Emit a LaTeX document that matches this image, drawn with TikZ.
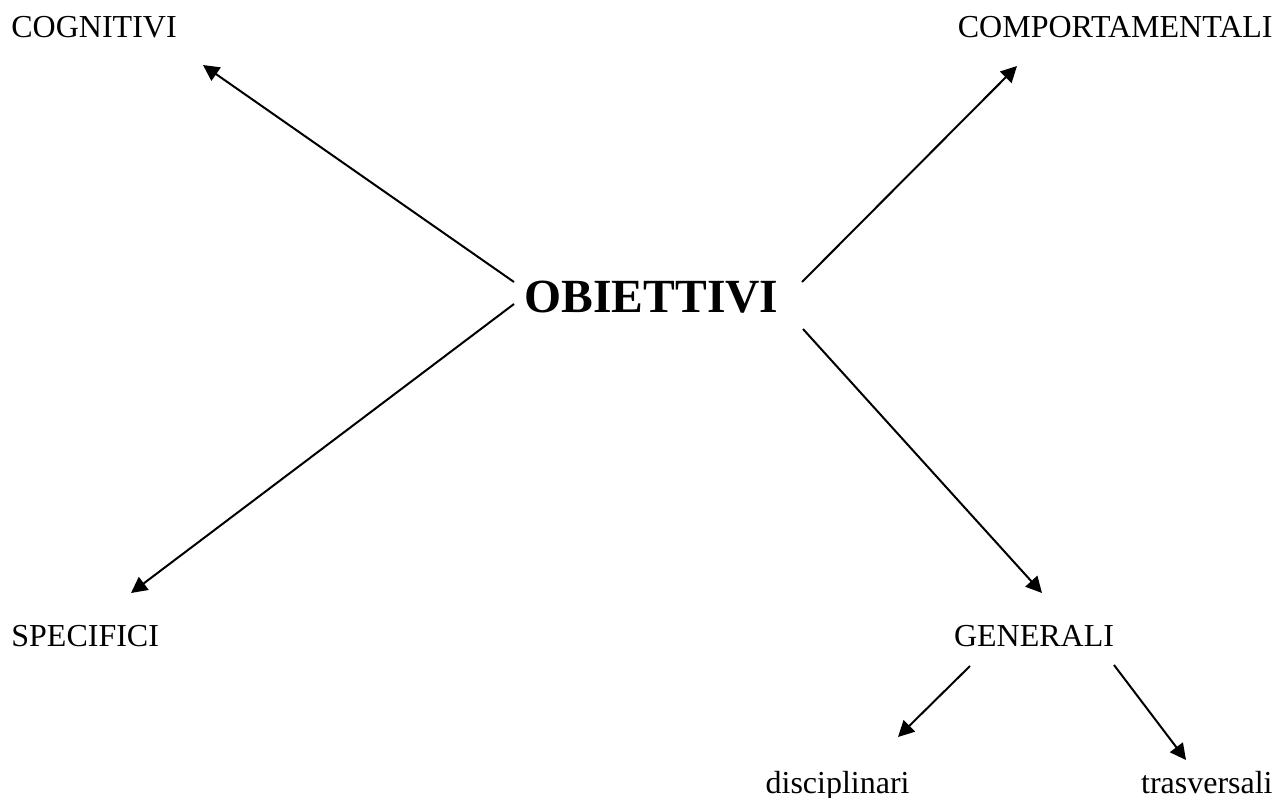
\documentclass[tikz,border=0pt]{standalone}
\usepackage{fontspec}
\setmainfont{Liberation Serif}
\usepackage{tikz}
\usetikzlibrary{calc,arrows.meta}
\tikzset{lbl/.style={inner sep=0pt,font=\fontsize{16}{19}\selectfont},
  arr/.style={-{Triangle[length=8pt,width=8pt]},line width=1pt}}

\begin{document}
\begin{tikzpicture}[x=0.5pt,y=-0.5pt]
  \useasboundingbox (0,0) rectangle (1287,798);

  % centre
  \node (obj) [inner sep=0pt,anchor=base,font=\fontsize{23.8}{28}\selectfont\bfseries] at (651.5,312) {OBIETTIVI};

  % labels
  \node (cog) [lbl,anchor=base west] at (11,37) {COGNITIVI};
  \node (comp) [lbl,anchor=base east] at (1273,37) {COMPORTAMENTALI};
  \node (spec) [lbl,anchor=base west] at (11,646) {SPECIFICI};
  \node (gen) [lbl,anchor=base] at (1034,646) {GENERALI};
  \node (disc) [lbl,anchor=base east] at (910,793) {disciplinari};
  \node (tra) [lbl,anchor=base east] at (1273,793) {trasversali};

  % arrows
  \draw[arr] ($(obj.base)+(-137.5,-30)$) -- ($(cog.base west)+(192,28)$);
  \draw[arr] ($(obj.base)+(150.5,-30)$) -- ($(comp.base east)+(-256,29)$);
  \draw[arr] ($(obj.base)+(-137.5,-8)$) -- ($(spec.base west)+(120,-53)$);
  \draw[arr] ($(obj.base)+(151.5,17)$) -- ($(gen.base)+(8,-53)$);

  \draw[arr] ($(gen.base)+(-64,20)$) -- ($(disc.base east)+(-12,-56)$);
  \draw[arr] ($(gen.base)+(80,19)$) -- ($(tra.base east)+(-87,-33)$);
\end{tikzpicture}
\end{document}
